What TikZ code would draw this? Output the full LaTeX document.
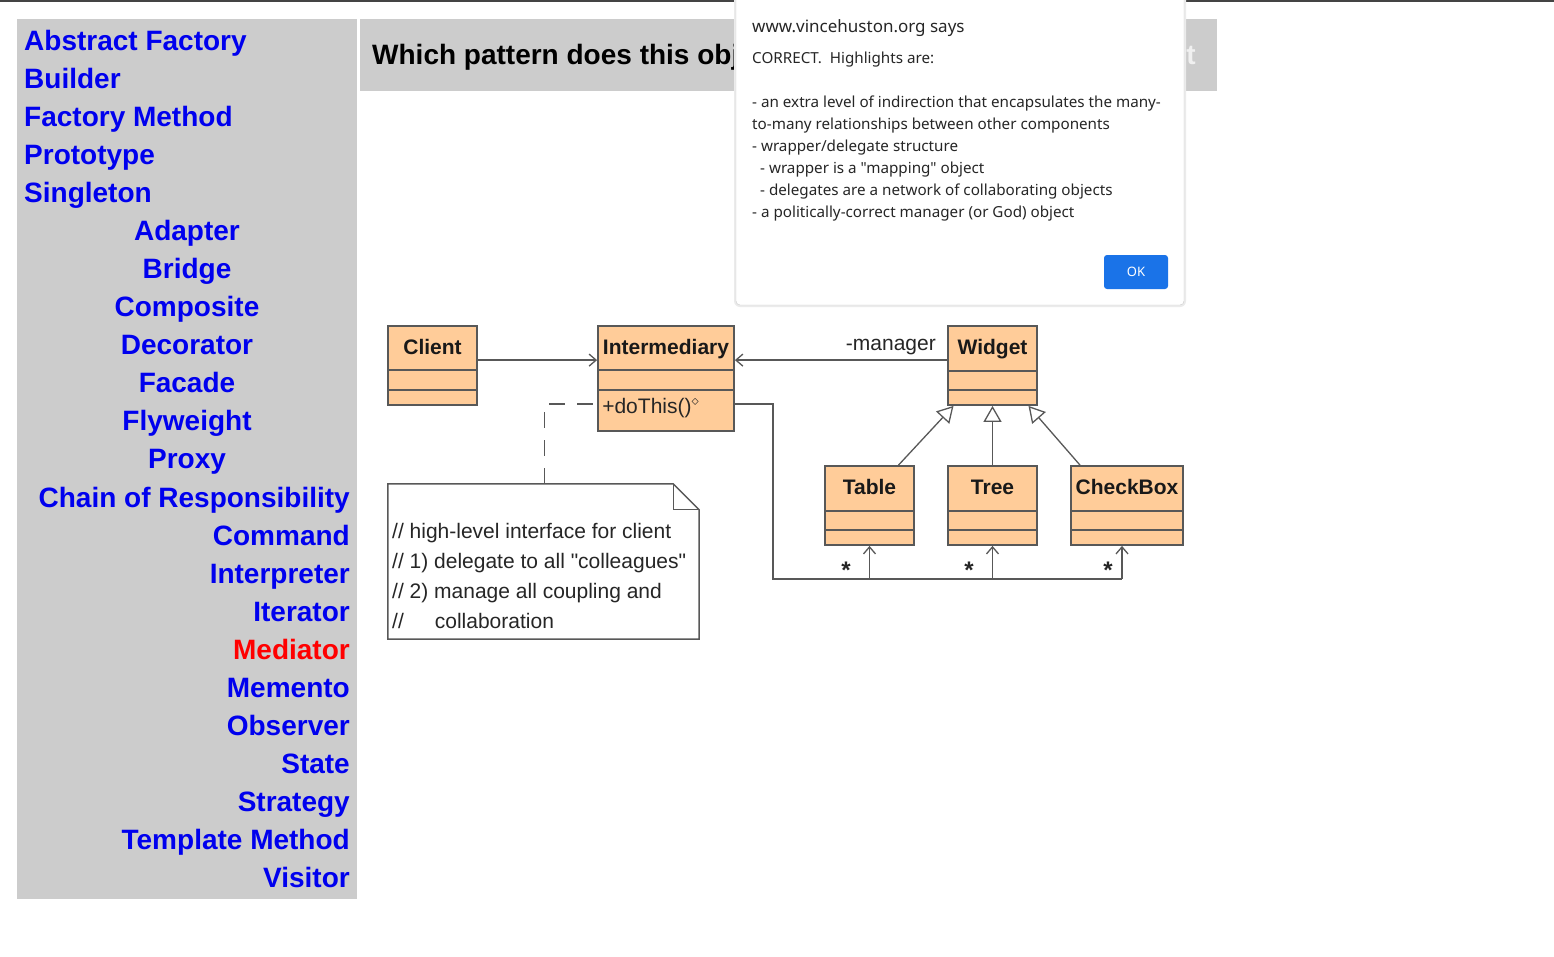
\documentclass[tikz,border=0pt]{standalone}
\usepackage{fontspec}
\setmainfont{Liberation Sans}
\newfontfamily\dlgfont{Noto Sans}
\usetikzlibrary{arrows.meta}

\definecolor{sidegray}{RGB}{204,204,204}
\definecolor{linkblue}{RGB}{0,0,238}
\definecolor{linkred}{RGB}{255,0,0}
\definecolor{clsfill}{RGB}{255,204,153}
\definecolor{clsdraw}{RGB}{88,88,88}
\definecolor{okblue}{RGB}{26,115,232}
\definecolor{topbar}{RGB}{68,68,68}
\definecolor{ghost}{RGB}{240,240,240}

\tikzset{
  menuitem/.style={inner sep=0pt, text=linkblue, font=\fontsize{28}{34}\selectfont\bfseries},
  dlgtext/.style={inner sep=0pt, anchor=base west, text=black!85, font=\dlgfont\fontsize{15.2}{18}\selectfont},
  clsbox/.style={draw=clsdraw, fill=clsfill, line width=1.8pt, inner sep=0pt},
  clsline/.style={draw=clsdraw, line width=1.5pt},
  clsname/.style={inner sep=0pt, anchor=base, text=black!90, font=\fontsize{21}{24}\selectfont\bfseries},
  umltext/.style={inner sep=0pt, text=black!85, font=\fontsize{21}{25}\selectfont},
  mult/.style={inner sep=0pt, text=black!85, font=\fontsize{24}{26}\selectfont\bfseries},
  conn/.style={draw=clsdraw, line width=1.3pt},
  nav/.style={conn, -{Straight Barb[length=7pt,width=12pt]}},
  inherit/.style={conn, -{Triangle[open,length=16pt,width=18pt,fill=white]}},
  noteline/.style={conn, dash pattern=on 16pt off 12pt}
}

% class box: name, left x, top y, width, height, divider 1, divider 2, title
\newcommand{\umlclass}[8]{%
  \node[clsbox, minimum width=#4pt, minimum height=#5pt] (#1) at (#2+#4/2,#3+#5/2) {};
  \draw[clsline] ([yshift=-#6pt]#1.north west) -- ([yshift=-#6pt]#1.north east);
  \draw[clsline] ([yshift=-#7pt]#1.north west) -- ([yshift=-#7pt]#1.north east);
  \node[clsname] (#1-name) at ([yshift=-29pt]#1.north) {#8};
}

\begin{document}
\begin{tikzpicture}[x=1pt,y=-1pt]
  \useasboundingbox (0,0) rectangle (1554,956);
  \fill[white] (0,0) rectangle (1554,956);
  \fill[topbar] (0,0) rectangle (1554,2);

  % menu
  \fill[sidegray] (17,19) rectangle (357,899);
  \node[menuitem, anchor=base west] (absfac) at (24,50) {Abstract Factory};
  \node[menuitem, anchor=base west] (builder) at (24,88) {Builder};
  \node[menuitem, anchor=base west] (facmeth) at (24,126) {Factory Method};
  \node[menuitem, anchor=base west] (proto) at (24,164) {Prototype};
  \node[menuitem, anchor=base west] (single) at (24,202) {Singleton};
  \node[menuitem, anchor=base] (adapter) at (187,240) {Adapter};
  \node[menuitem, anchor=base] (bridge) at (187,278) {Bridge};
  \node[menuitem, anchor=base] (compos) at (187,316) {Composite};
  \node[menuitem, anchor=base] (decor) at (187,354) {Decorator};
  \node[menuitem, anchor=base] (facade) at (187,392) {Facade};
  \node[menuitem, anchor=base] (flywt) at (187,430) {Flyweight};
  \node[menuitem, anchor=base] (proxy) at (187,468) {Proxy};
  \node[menuitem, anchor=base east] (chain) at (350,507) {Chain of Responsibility};
  \node[menuitem, anchor=base east] (command) at (350,545) {Command};
  \node[menuitem, anchor=base east] (interp) at (350,583) {Interpreter};
  \node[menuitem, anchor=base east] (iter) at (350,621) {Iterator};
  \node[menuitem, anchor=base east, text=linkred] (mediator) at (350,659) {Mediator};
  \node[menuitem, anchor=base east] (memento) at (350,697) {Memento};
  \node[menuitem, anchor=base east] (observer) at (350,735) {Observer};
  \node[menuitem, anchor=base east] (state) at (350,773) {State};
  \node[menuitem, anchor=base east] (strategy) at (350,811) {Strategy};
  \node[menuitem, anchor=base east] (tmplmeth) at (350,849) {Template Method};
  \node[menuitem, anchor=base east] (visitor) at (350,887) {Visitor};

  % question bar
  \fill[sidegray] (360,19) rectangle (1217,91);
  \node[menuitem, anchor=base west, text=black] (question) at (372,64) {Which pattern does this obj};
  \node[menuitem, anchor=base east, text=ghost] (qtail) at (1196,64) {nt};

  % classes
  \umlclass{client}{388}{326}{89}{79}{45}{65}{Client}
  \umlclass{inter}{598}{326}{136}{105}{45}{65}{Intermediary}
  \umlclass{widget}{948}{326}{89}{79}{46}{65}{Widget}
  \umlclass{table}{825}{466}{89}{79}{46}{65}{Table}
  \umlclass{tree}{948}{466}{89}{79}{46}{65}{Tree}
  \umlclass{checkbox}{1071}{466}{112}{79}{46}{65}{CheckBox}
  \node[umltext, anchor=base west] (dothis) at ([xshift=5pt,yshift=-88pt]inter.north west) {+doThis()\textsuperscript{$\diamond$}};

  % associations
  \draw[nav] ([yshift=-35pt]client.north east) -- ([yshift=-35pt]inter.north west);
  \draw[nav] ([yshift=-35pt]widget.north west) -- ([yshift=-35pt]inter.north east);
  \node[umltext, anchor=base east] (manager) at (936,350) {-manager};
  \coordinate (busw) at (773,579);
  \coordinate (buse) at (1122,579);
  \draw[conn] ([yshift=-79pt]inter.north east) -| (busw) -- (buse);
  \draw[nav] (busw -| table.south) -- (table.south);
  \draw[nav] (busw -| tree.south) -- (tree.south);
  \draw[nav] (buse) -- (buse |- checkbox.south);
  \node[mult] (star1) at (846,570) {*};
  \node[mult] (star2) at (969,570) {*};
  \node[mult] (star3) at (1108,570) {*};

  % generalisation
  \draw[inherit] ([xshift=29pt]table.north) -- ([xshift=-39pt]widget.south);
  \draw[inherit] (tree.north) -- (widget.south);
  \draw[inherit] ([xshift=-47pt]checkbox.north) -- ([xshift=36pt]widget.south);

  % note
  \node[minimum width=311pt, minimum height=155pt, inner sep=0pt] (note) at (388+311/2,484+155/2) {};
  \filldraw[fill=white, draw=clsdraw, line width=1.5pt] (note.south west) -- (note.north west)
    -- ([xshift=-26pt]note.north east) -- ([yshift=-26pt]note.north east) -- (note.south east) -- cycle;
  \draw[clsline, line width=1.3pt] ([xshift=-26pt]note.north east) -- ([xshift=-26pt,yshift=-26pt]note.north east)
    -- ([yshift=-26pt]note.north east);
  \draw[noteline] ([xshift=157pt]note.north west) |- ([yshift=-79pt]inter.north west);
  \node[umltext, anchor=base west] (note1) at (392,538) {// high-level interface for client};
  \node[umltext, anchor=base west] (note2) at (392,568) {// 1) delegate to all \textquotedbl colleagues\textquotedbl};
  \node[umltext, anchor=base west] (note3) at (392,598) {// 2) manage all coupling and};
  \node[umltext, anchor=base west] (note4) at (392,628) {//\hspace{31pt}collaboration};

  % alert box
  \fill[black!8, rounded corners=6pt] (734,-8) rectangle (1186,307);
  \filldraw[fill=white, draw=black!20, rounded corners=4pt] (736,-8) rectangle (1184,305);
  \node[dlgtext, font=\dlgfont\fontsize{17}{20}\selectfont] (site) at (752,32) {www.vincehuston.org says};
  \node[dlgtext] (msg0) at (752,63) {CORRECT.\ \ Highlights are:};
  \node[dlgtext] (msg1) at (752,107) {- an extra level of indirection that encapsulates the many-};
  \node[dlgtext] (msg2) at (752,129) {to-many relationships between other components};
  \node[dlgtext] (msg3) at (752,151) {- wrapper/delegate structure};
  \node[dlgtext] (msg4) at (760,173) {- wrapper is a "mapping" object};
  \node[dlgtext] (msg5) at (760,195) {- delegates are a network of collaborating objects};
  \node[dlgtext] (msg6) at (752,217) {- a politically-correct manager (or God) object};
  \node[fill=okblue, rounded corners=3pt, minimum width=64pt, minimum height=34pt, inner sep=0pt,
        text=white, font=\dlgfont\fontsize{13}{15}\selectfont\bfseries] (ok) at (1136,272) {OK};
\end{tikzpicture}
\end{document}
